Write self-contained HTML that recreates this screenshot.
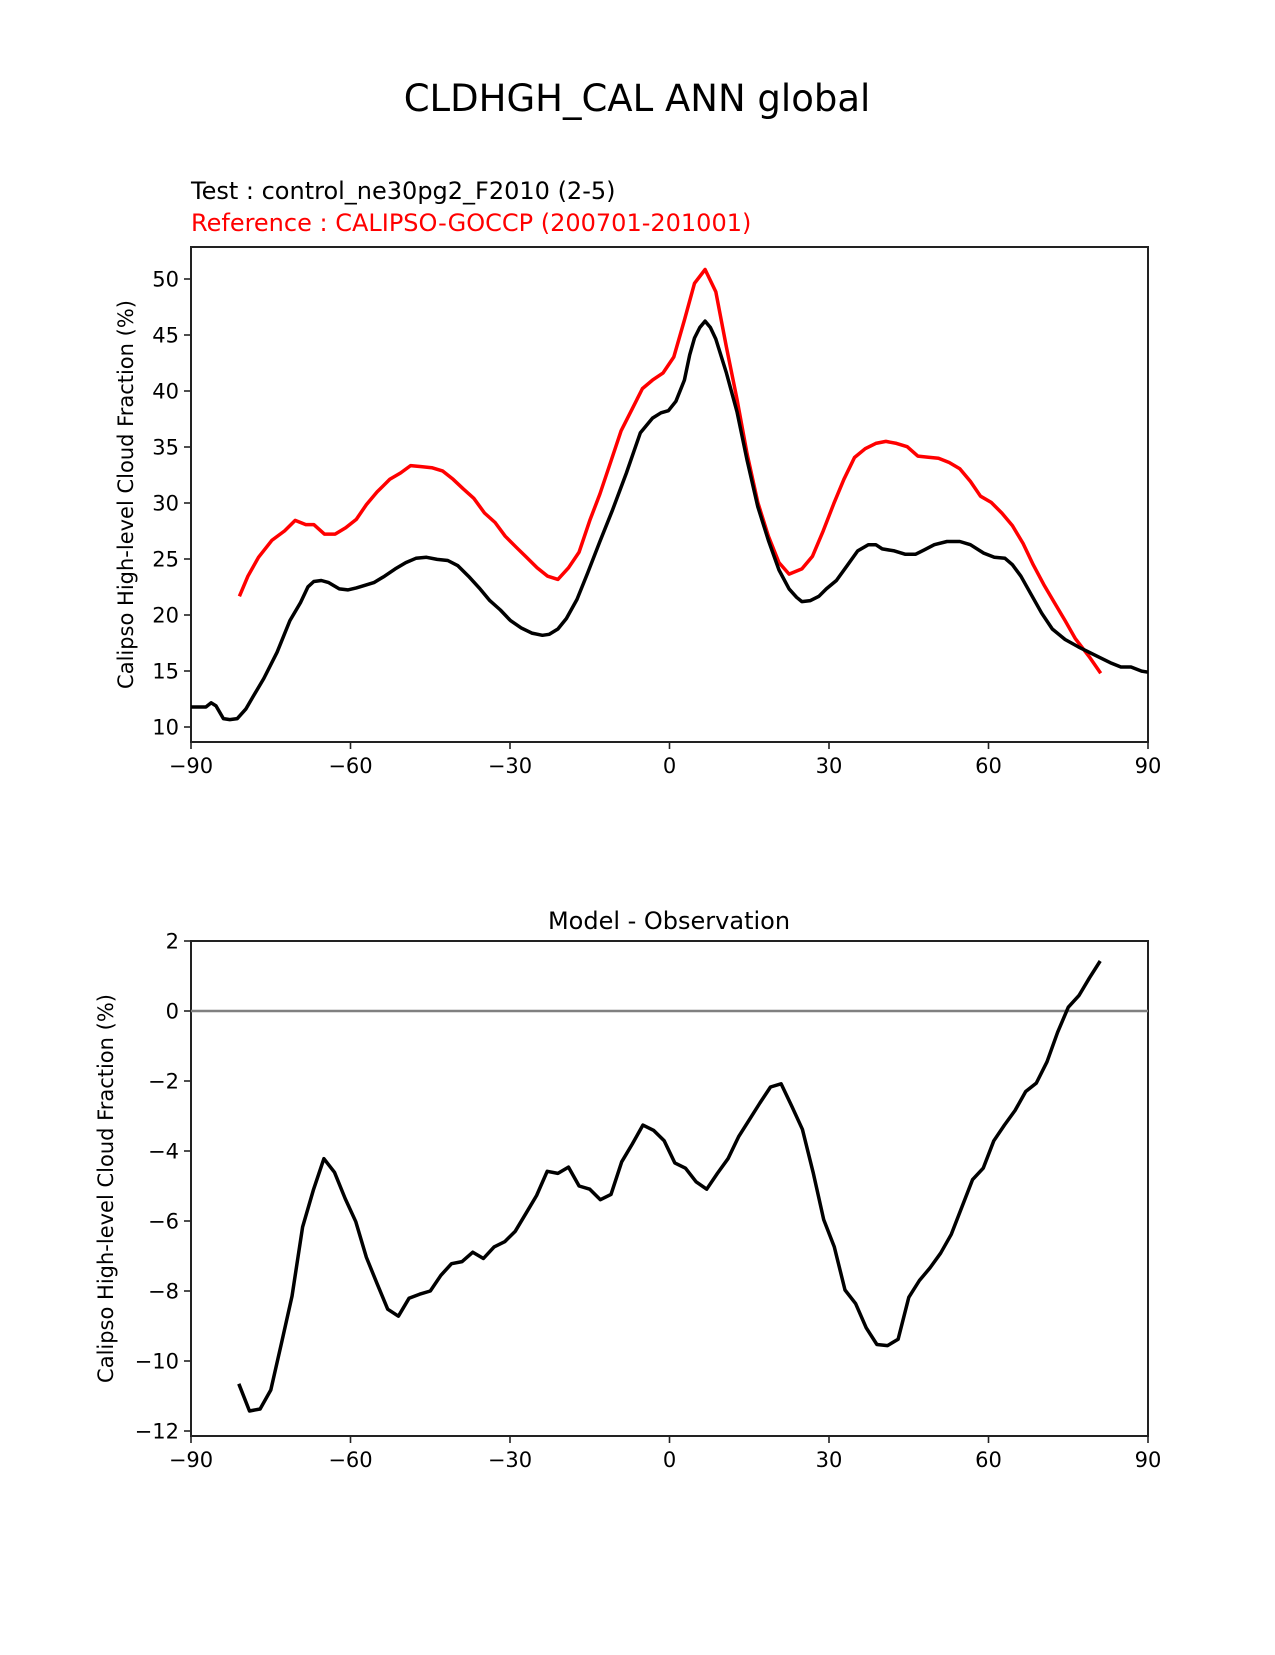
<!DOCTYPE html>
<html><head><meta charset="utf-8"><style>
body{margin:0;background:#fff}
svg text{font-family:"DejaVu Sans","Liberation Sans",sans-serif}
</style></head><body>
<svg id="fig" width="1275" height="1650" viewBox="0 0 1275 1650" xmlns="http://www.w3.org/2000/svg">
<rect width="1275" height="1650" fill="#fff"/>
<text x="637" y="111" font-size="37" text-anchor="middle">CLDHGH_CAL ANN global</text>
<text x="191" y="199" font-size="24">Test : control_ne30pg2_F2010 (2-5)</text>
<text x="191" y="231" font-size="24" fill="#ff0000">Reference : CALIPSO-GOCCP (200701-201001)</text>
<text x="669" y="929" font-size="24" text-anchor="middle">Model - Observation</text>
<g id="top"></g>
<g id="bot"></g>
</svg>
<script>
const xTicks=[-90,-60,-30,0,30,60,90];
const topYTicks=[10,15,20,25,30,35,40,45,50];
const botYTicks=[-12,-10,-8,-6,-4,-2,0,2];
const testLat=[-90,-87.2,-86.2,-85.3,-83.9,-82.7,-81.3,-79.7,-78.3,-76.3,-73.8,-71.4,-69.4,-68.0,-66.9,-65.5,-64.1,-62.1,-60.5,-58.9,-57.6,-55.6,-53.6,-51.6,-49.6,-47.7,-45.7,-43.7,-41.7,-39.8,-37.8,-35.8,-33.8,-31.8,-29.9,-27.9,-25.9,-23.9,-22.6,-21.0,-19.4,-17.4,-15.4,-13.1,-10.7,-8.1,-5.5,-3.2,-1.6,-0.2,1.2,2.8,3.8,4.7,5.7,6.7,7.7,8.7,10.7,12.7,14.6,16.6,18.6,20.6,22.5,23.9,24.9,26.5,28.1,29.5,31.4,33.4,35.4,37.4,38.8,40.0,42.3,44.3,46.3,47.9,49.8,52.2,54.6,56.6,59.1,61.1,63.1,64.5,66.1,68.0,70.0,72.0,74.4,76.9,78.9,80.9,82.9,84.9,86.8,88.8,90];
const testVal=[11.79,11.79,12.16,11.88,10.75,10.66,10.75,11.60,12.73,14.33,16.68,19.50,21.11,22.52,22.99,23.08,22.89,22.33,22.24,22.42,22.61,22.89,23.46,24.12,24.68,25.06,25.15,24.96,24.87,24.40,23.46,22.42,21.29,20.45,19.50,18.85,18.38,18.19,18.28,18.75,19.69,21.39,23.74,26.56,29.39,32.68,36.26,37.58,38.05,38.24,39.08,40.97,43.22,44.73,45.67,46.24,45.67,44.64,41.62,38.14,33.81,29.67,26.66,24.02,22.33,21.58,21.20,21.29,21.67,22.33,23.08,24.40,25.72,26.28,26.28,25.90,25.72,25.43,25.43,25.81,26.28,26.56,26.56,26.28,25.53,25.15,25.06,24.49,23.46,21.86,20.16,18.75,17.81,17.15,16.68,16.21,15.74,15.36,15.36,14.99,14.89];
const refLat=[-80.9,-79.3,-77.3,-74.8,-72.4,-70.4,-68.4,-66.9,-64.9,-62.9,-60.9,-58.9,-57.0,-55.0,-52.6,-50.6,-48.7,-46.7,-44.7,-42.7,-40.7,-38.8,-36.8,-34.8,-32.8,-30.9,-28.9,-26.9,-24.9,-22.9,-21.0,-19.0,-17.0,-15.0,-13.1,-11.1,-9.1,-7.1,-5.1,-3.2,-1.2,0.8,2.8,4.7,6.7,8.7,10.7,12.7,14.6,16.6,18.6,20.6,22.5,24.9,26.9,28.9,30.9,32.8,34.8,36.8,38.8,40.7,42.7,44.7,46.7,48.7,50.6,52.6,54.6,56.6,58.5,60.5,62.5,64.5,66.5,68.4,70.4,72.4,74.4,76.3,78.9,81.1];
const refVal=[21.67,23.46,25.15,26.66,27.51,28.45,28.07,28.07,27.22,27.22,27.79,28.54,29.86,30.99,32.12,32.68,33.34,33.25,33.15,32.87,32.12,31.27,30.42,29.11,28.26,27.04,26.09,25.15,24.21,23.46,23.18,24.21,25.62,28.45,30.80,33.62,36.45,38.33,40.21,40.97,41.62,43.04,46.33,49.62,50.85,48.87,43.93,39.27,34.38,30.05,27.04,24.68,23.65,24.12,25.25,27.51,29.95,32.12,34.06,34.85,35.32,35.50,35.32,35.03,34.19,34.09,34.00,33.62,33.06,31.93,30.61,30.05,29.11,27.98,26.38,24.49,22.71,21.11,19.50,17.91,16.30,14.80];
const diffLat=[-81,-79,-77,-75,-73,-71,-69,-67,-65,-63,-61,-59,-57,-55,-53,-51,-49,-47,-45,-43,-41,-39,-37,-35,-33,-31,-29,-27,-25,-23,-21,-19,-17,-15,-13,-11,-9,-7,-5,-3,-1,1,3,5,7,9,11,13,15,17,19,21,23,25,27,29,31,33,35,37,39,41,43,45,47,49,51,53,55,57,59,61,63,65,67,69,71,73,75,77,79,81];
const diffVal=[-10.65,-11.43,-11.37,-10.83,-9.50,-8.15,-6.17,-5.12,-4.22,-4.61,-5.36,-6.02,-7.04,-7.79,-8.52,-8.72,-8.21,-8.09,-8.00,-7.55,-7.22,-7.16,-6.89,-7.07,-6.74,-6.59,-6.29,-5.78,-5.27,-4.58,-4.64,-4.46,-5.00,-5.09,-5.39,-5.24,-4.31,-3.80,-3.26,-3.41,-3.71,-4.34,-4.49,-4.88,-5.09,-4.64,-4.22,-3.59,-3.11,-2.63,-2.17,-2.08,-2.72,-3.38,-4.61,-5.96,-6.74,-7.97,-8.36,-9.05,-9.53,-9.56,-9.38,-8.18,-7.70,-7.34,-6.92,-6.38,-5.60,-4.82,-4.49,-3.71,-3.26,-2.84,-2.30,-2.06,-1.45,-0.61,0.11,0.44,0.95,1.43];

const NS='http://www.w3.org/2000/svg';
function mk(parent,tag,attrs){const e=document.createElementNS(NS,tag);for(const k in attrs)e.setAttribute(k,attrs[k]);parent.appendChild(e);return e;}
const L=191,R=1148;
function xs(v){return L+(v+90)/180*(R-L);}
function fmt(v){return v<0?'\u2212'+(-v):String(v);}

function axes(g,top,bottom,y0,y1,v0,v1,yt,label,ylx){
  const ys=v=>y0+(v-v0)/(v1-v0)*(y1-y0);
  const frame=mk(g,'rect',{x:L,y:top,width:R-L,height:bottom-top,fill:'none',stroke:'#222','stroke-width':2});
  
  
  xTicks.forEach(t=>{
    const x=xs(t);
    const tk=mk(g,'line',{x1:x,x2:x,y1:bottom,y2:bottom+7,stroke:'#222','stroke-width':1.6});
    
    
    const tx=mk(g,'text',{x:x,y:bottom+31,'font-size':21,'text-anchor':'middle'});
    tx.textContent=fmt(t);
    
    
  });
  yt.forEach(t=>{
    const y=ys(t);
    const tk=mk(g,'line',{x1:L-7,x2:L,y1:y,y2:y,stroke:'#222','stroke-width':1.6});
    
    
    const tx=mk(g,'text',{x:L-12,y:y+7.5,'font-size':21,'text-anchor':'end'});
    tx.textContent=fmt(t);
    
    
  });
  const cy=(top+bottom)/2;
  const yl=mk(g,'text',{x:ylx,y:cy,'font-size':21,'text-anchor':'middle',transform:`rotate(-90 ${ylx} ${cy})`,'dominant-baseline':'middle'});
  yl.textContent=label;
  
  
  return ys;
}
function line(g,lat,val,ys,color,name){
  const d=lat.map((la,i)=>(i?'L':'M')+xs(la).toFixed(1)+' '+ys(val[i]).toFixed(1)).join(' ');
  const p=mk(g,'path',{d:d,fill:'none',stroke:color,'stroke-width':3.5,'stroke-linejoin':'round'});
  
  
}
const topG=document.getElementById('top');
const ysT=axes(topG,247,742,727,279,10,50,topYTicks,'Calipso High-level Cloud Fraction (%)',127);
const clip=mk(topG,'clipPath',{id:'c1'});mk(clip,'rect',{x:L,y:247,width:R-L,height:495});
const tg=mk(topG,'g',{'clip-path':'url(#c1)'});
line(tg,refLat,refVal,ysT,'#ff0000','reference-line');
line(tg,testLat,testVal,ysT,'#000','test-line');

const botG=document.getElementById('bot');
const ysB=axes(botG,941,1436,1431,1361,-12,-10,botYTicks,'Calipso High-level Cloud Fraction (%)',107);
const z=mk(botG,'line',{x1:L,x2:R,y1:ysB(0),y2:ysB(0),stroke:'#808080','stroke-width':2.5});


line(botG,diffLat,diffVal,ysB,'#000','difference-line');
</script>
</body></html>
